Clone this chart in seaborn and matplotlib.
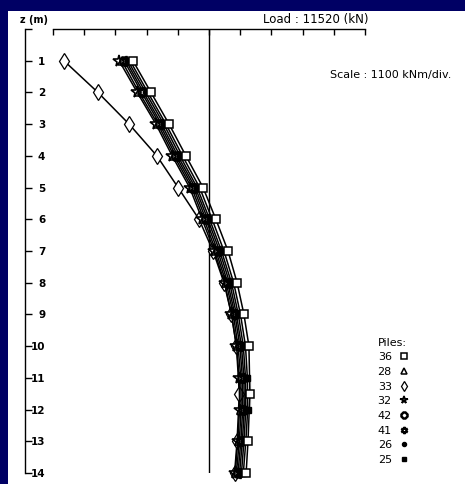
import matplotlib
matplotlib.use("Agg")
import matplotlib.pyplot as plt
import pandas as pd
import seaborn as sns
from matplotlib.lines import Line2D
from matplotlib.patches import Rectangle

# Depth below pile head (m)
depth_m = [1, 2, 3, 4, 5, 6, 7, 8, 9, 10, 11, 12, 13, 14]

# Bending moment along each pile, in plot divisions (1 div = 1100 kNm)
m36 = [-2.44, -1.86, -1.28, -0.74, -0.19, 0.22, 0.61, 0.90, 1.12, 1.28, 1.31, 1.31, 1.25, 1.19]
m28 = [-2.80, -2.24, -1.64, -1.12, -0.56, -0.16, 0.22, 0.55, 0.78, 0.93, 1.02, 1.03, 0.97, 0.88]
m33 = [-4.65, -3.56, -2.56, -1.67, -0.99, -0.32, 0.13, 0.48, 0.72, 0.88, 0.97, 0.97, 0.90, 0.82]
m32 = [-2.88, -2.30, -1.70, -1.18, -0.62, -0.22, 0.17, 0.50, 0.72, 0.88, 0.97, 0.98, 0.92, 0.84]
m42 = [-2.72, -2.16, -1.58, -1.06, -0.50, -0.10, 0.28, 0.60, 0.83, 0.99, 1.07, 1.08, 1.02, 0.93]
m41 = [-2.66, -2.10, -1.52, -1.00, -0.44, -0.04, 0.34, 0.66, 0.88, 1.04, 1.12, 1.13, 1.07, 0.98]
m26 = [-2.60, -2.03, -1.45, -0.93, -0.38, 0.02, 0.40, 0.72, 0.94, 1.10, 1.17, 1.18, 1.12, 1.04]
m25 = [-2.53, -1.96, -1.38, -0.85, -0.30, 0.10, 0.48, 0.79, 1.01, 1.17, 1.23, 1.24, 1.18, 1.10]

pile_ids = ["36", "28", "33", "32", "42", "41", "26", "25"]
moments = {"36": m36, "28": m28, "33": m33, "32": m32,
           "42": m42, "41": m41, "26": m26, "25": m25}

depth_ticks = list(range(0, 15))
depth_labels = [""] + [str(d) for d in range(1, 15)]
moment_ticks = [-5, -4, -3, -2, -1, 0, 1, 2, 3, 4, 5]

load_text = "Load : 11520 (kN)"
scale_text = "Scale : 1100 kNm/div."

# marker, size, filled, edge width
styles = {
    "36": ("s", 6.0, False, 1.1),
    "28": ("^", 6.0, False, 1.1),
    "33": ("d", 8.5, False, 0.9),
    "32": ("*", 8.5, False, 1.2),
    "42": ("8", 6.0, False, 1.8),
    "41": ((6, 1, 0), 7.5, False, 1.6),
    "26": ("o", 4.5, True, 1.0),
    "25": ("s", 4.3, True, 1.0),
}

rows = []
for pid in pile_ids:
    for z, m in zip(depth_m, moments[pid]):
        rows.append({"pile": pid, "z": z, "moment": m})
df = pd.DataFrame(rows)

sns.set_style("white")
plt.rcParams["font.family"] = ["DejaVu Sans"]
plt.rcParams["text.color"] = "black"
plt.rcParams["ytick.color"] = "black"
plt.rcParams["xtick.color"] = "black"

W, H = 465, 484
fig = plt.figure(figsize=(W / 100, H / 100), dpi=100)
fig.patch.set_facecolor("#000064")
fig.patches.append(Rectangle((8 / W, 0), (W - 8) / W, (H - 11) / H,
                             transform=fig.transFigure, facecolor="white",
                             edgecolor="none", zorder=-5))

ax = fig.add_axes([25 / W, (H - 473) / H, 440 / W, 444 / H])
ax.set_facecolor("none")
ax.set_zorder(2)

draw_order = ["33", "32", "28", "42", "41", "26", "25", "36"]
for pid in draw_order:
    mk, ms, filled, mew = styles[pid]
    sub = df[df["pile"] == pid]
    sns.lineplot(data=sub, x="moment", y="z", sort=False, ax=ax,
                 color="black", lw=1.1, marker=mk, markersize=ms,
                 markerfacecolor="black" if filled else "white",
                 markeredgecolor="black", markeredgewidth=mew,
                 legend=False, zorder=3, clip_on=False)

# zero-moment reference line
ax.axvline(0, color="black", lw=1.0, zorder=2)

ax.set_xlim((25 - 209) / 31.2, (465 - 209) / 31.2)
ax.set_ylim(14, 0)
ax.set_xlabel("")
ax.set_ylabel("")

for side in ["right", "bottom"]:
    ax.spines[side].set_visible(False)
ax.spines["left"].set_linewidth(1.0)
ax.spines["top"].set_linewidth(1.0)
ax.spines["top"].set_bounds(-5, 5)
ax.spines["left"].set_color("black")
ax.spines["top"].set_color("black")

ax.xaxis.tick_top()
ax.set_xticks(moment_ticks)
ax.set_xticklabels([])
ax.tick_params(axis="x", which="both", top=True, bottom=False,
               direction="in", length=4, width=1.0, color="black")

ax.set_yticks(depth_ticks)
ax.set_yticklabels(depth_labels, fontsize=7.5, fontweight="bold")
ax.tick_params(axis="y", which="both", left=True, right=False,
               direction="in", length=5, width=1.0, color="black",
               pad=-14.5)
for lbl in ax.get_yticklabels():
    lbl.set_horizontalalignment("right")

fig.text(20 / W, 1 - 20 / H, "z (m)", fontsize=7, fontweight="bold",
         va="center", ha="left", color="black")
fig.text(263 / W, 1 - 19 / H, load_text, fontsize=8.5, va="center",
         ha="left", color="black")
fig.text(330 / W, 1 - 75 / H, scale_text, fontsize=8, va="center",
         ha="left", color="black")

handles = []
for pid in pile_ids:
    mk, ms, filled, mew = styles[pid]
    handles.append(Line2D([], [], linestyle="none", marker=mk,
                          markersize=ms * 0.65,
                          markerfacecolor="black" if filled else "white",
                          markeredgecolor="black", markeredgewidth=mew))
leg = fig.legend(handles, pile_ids, title="Piles:", loc="upper left",
                 bbox_to_anchor=(372 / W, 1 - 332 / H), frameon=False,
                 markerfirst=False, fontsize=8, title_fontsize=8,
                 labelspacing=0.42, handlelength=1.0, handletextpad=0.6,
                 alignment="left", borderpad=0)
for t in leg.get_texts():
    t.set_color("black")
leg.get_title().set_color("black")

fig.savefig("out.png", dpi=100, facecolor=fig.get_facecolor())
